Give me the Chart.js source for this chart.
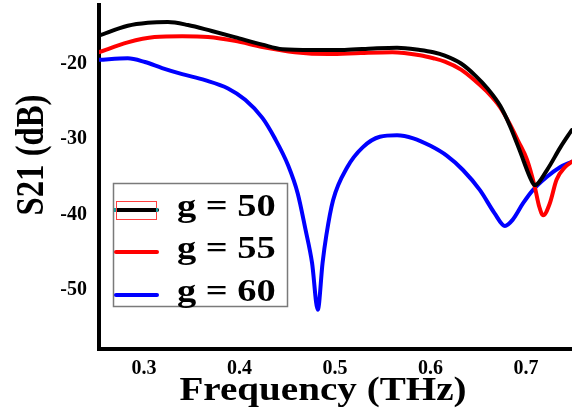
<!DOCTYPE html>
<html>
<head>
<meta charset="utf-8">
<script src="https://cdn.jsdelivr.net/npm/chart.js@4/dist/chart.umd.min.js"></script>
<style>
  html, body { margin: 0; padding: 0; background: #fff; }
  canvas { display: block; }
</style>
</head>
<body>
<canvas id="chart" width="572" height="408"></canvas>
<script>
// g = 50
const freq50 = [0.253, 0.283, 0.304, 0.325, 0.346, 0.371, 0.395, 0.424, 0.445, 0.476, 0.51, 0.54, 0.565, 0.589, 0.603, 0.615, 0.632, 0.647, 0.659, 0.673, 0.683, 0.694, 0.704, 0.709, 0.722, 0.736, 0.748];
const s21_50 = [-16.3, -15.0, -14.6, -14.5, -14.9, -15.7, -16.5, -17.5, -18.1, -18.2, -18.2, -18.0, -17.9, -18.2, -18.5, -18.95, -20.0, -21.6, -23.2, -25.6, -28.2, -31.7, -35.0, -36.1, -34.1, -31.1, -28.8];

// g = 55
const freq55 = [0.253, 0.283, 0.311, 0.34, 0.367, 0.395, 0.424, 0.458, 0.493, 0.527, 0.56, 0.589, 0.603, 0.615, 0.632, 0.647, 0.659, 0.673, 0.683, 0.692, 0.701, 0.709, 0.714, 0.718, 0.725, 0.732, 0.741, 0.748];
const s21_55 = [-18.5, -17.2, -16.5, -16.4, -16.5, -17.0, -17.8, -18.5, -18.75, -18.6, -18.5, -18.9, -19.3, -19.75, -20.8, -22.3, -23.7, -25.8, -28.0, -30.3, -32.7, -36.2, -39.0, -40.1, -38.5, -35.4, -33.7, -33.0];

// g = 60
const freq60 = [0.253, 0.283, 0.301, 0.319, 0.34, 0.364, 0.388, 0.406, 0.424, 0.437, 0.451, 0.461, 0.469, 0.476, 0.482, 0.487, 0.491, 0.498, 0.513, 0.529, 0.547, 0.565, 0.582, 0.6, 0.617, 0.634, 0.652, 0.667, 0.678, 0.686, 0.697, 0.707, 0.722, 0.736, 0.748];
const s21_60 = [-19.5, -19.3, -19.8, -20.6, -21.4, -22.2, -23.3, -24.8, -27.2, -29.9, -33.5, -37.2, -41.9, -46.4, -52.6, -46.4, -42.7, -38.1, -33.7, -31.1, -29.7, -29.5, -29.9, -30.9, -32.2, -34.1, -36.8, -39.8, -41.5, -40.7, -38.5, -36.8, -35.0, -33.7, -33.0];

const seriesLabels = ['g = 50', 'g = 55', 'g = 60'];
const seriesColors = ['#000000', '#ff0000', '#0000ff'];

const xTickValues = [0.3, 0.4, 0.5, 0.6, 0.7];
const xTickLabels = ['0.3', '0.4', '0.5', '0.6', '0.7'];
const yTickValues = [-50, -40, -30, -20];
const yTickLabels = ['-50', '-40', '-30', '-20'];

const serif = "'Liberation Serif', 'Times New Roman', serif";

function toPoints(xs, ys) {
    return xs.map((x, i) => ({ x: x, y: ys[i] }));
}

// stretched text helper
function drawText(ctx, text, x, y, size, scaleX, align) {
    ctx.save();
    ctx.font = 'bold ' + size + 'px ' + serif;
    ctx.textBaseline = 'alphabetic';
    const w = ctx.measureText(text).width * scaleX;
    let left = x;
    if (align === 'center') left = x - w / 2;
    ctx.translate(left, y);
    ctx.scale(scaleX, 1);
    ctx.textAlign = 'left';
    ctx.fillText(text, 0, 0);
    ctx.restore();
}

const annotations = {
    id: 'annotations',
    afterDraw(chart) {
        const ctx = chart.ctx;
        ctx.fillStyle = '#000';

        // x axis title
        drawText(ctx, 'Frequency (THz)', 323, 400, 34, 1.15, 'center');

        // y axis title, rotated
        ctx.save();
        ctx.translate(43, 155);
        ctx.rotate(-Math.PI / 2);
        drawText(ctx, 'S21 (dB)', 0, 0, 39, 0.84, 'center');
        ctx.restore();

        // legend box
        ctx.save();
        ctx.fillStyle = '#fff';
        ctx.fillRect(113, 183, 175, 124);
        ctx.strokeStyle = '#7a7a7a';
        ctx.lineWidth = 1.5;
        ctx.strokeRect(113.5, 183.5, 174, 123);

        const rows = [210, 252, 295];
        const baselines = [216, 258, 301];
        chart.data.datasets.forEach((ds, i) => {
            ctx.strokeStyle = ds.borderColor;
            ctx.lineWidth = 4;
            ctx.lineCap = 'round';
            ctx.beginPath();
            ctx.moveTo(116, rows[i]);
            ctx.lineTo(157, rows[i]);
            ctx.stroke();
            ctx.fillStyle = '#000';
            drawText(ctx, ds.label, 177, baselines[i], 31, 1.24, 'left');
        });

        // selection marker around first sample
        ctx.strokeStyle = '#ff4040';
        ctx.lineWidth = 1;
        ctx.lineCap = 'butt';
        ctx.strokeRect(116.5, 201.5, 40, 18);
        ctx.fillStyle = '#20a0a0';
        ctx.fillRect(114, 208, 2, 4);
        ctx.fillRect(156, 208, 2, 4);
        ctx.restore();
    }
};

new Chart(document.getElementById('chart'), {
    type: 'line',
    data: {
        datasets: [
            { label: seriesLabels[0], data: toPoints(freq50, s21_50), borderColor: seriesColors[0] },
            { label: seriesLabels[1], data: toPoints(freq55, s21_55), borderColor: seriesColors[1] },
            { label: seriesLabels[2], data: toPoints(freq60, s21_60), borderColor: seriesColors[2] }
        ]
    },
    options: {
        responsive: false,
        animation: false,
        layout: { padding: { top: 5, right: 0, left: 0, bottom: 0 } },
        elements: {
            line: { borderWidth: 4, cubicInterpolationMode: 'monotone', fill: false, borderCapStyle: 'round' },
            point: { radius: 0 }
        },
        scales: {
            x: {
                type: 'linear',
                min: 0.2529,
                max: 0.7482,
                afterBuildTicks: scale => { scale.ticks = xTickValues.map(v => ({ value: v })); },
                afterFit: scale => {
                    scale.height = 59;
                    scale.paddingLeft = 0;
                    scale.paddingRight = 0;
                },
                grid: { display: false, drawTicks: false },
                border: { display: true, color: '#000', width: 4 },
                ticks: {
                    autoSkip: false,
                    maxRotation: 0,
                    padding: 8,
                    color: '#000',
                    font: { family: serif, weight: 'bold', size: 20 },
                    callback: (value, index) => xTickLabels[index]
                }
            },
            y: {
                type: 'linear',
                min: -57.8,
                max: -12.25,
                afterBuildTicks: scale => { scale.ticks = yTickValues.map(v => ({ value: v })); },
                afterFit: scale => {
                    scale.width = 99;
                    scale.paddingTop = 0;
                    scale.paddingBottom = 0;
                },
                grid: { display: false, drawTicks: false },
                border: { display: true, color: '#000', width: 4 },
                ticks: {
                    autoSkip: false,
                    padding: 12,
                    color: '#000',
                    font: { family: serif, weight: 'bold', size: 20 },
                    callback: (value, index) => yTickLabels[index]
                }
            }
        },
        plugins: {
            legend: { display: false },
            tooltip: { enabled: false }
        }
    },
    plugins: [annotations]
});
</script>
</body>
</html>
